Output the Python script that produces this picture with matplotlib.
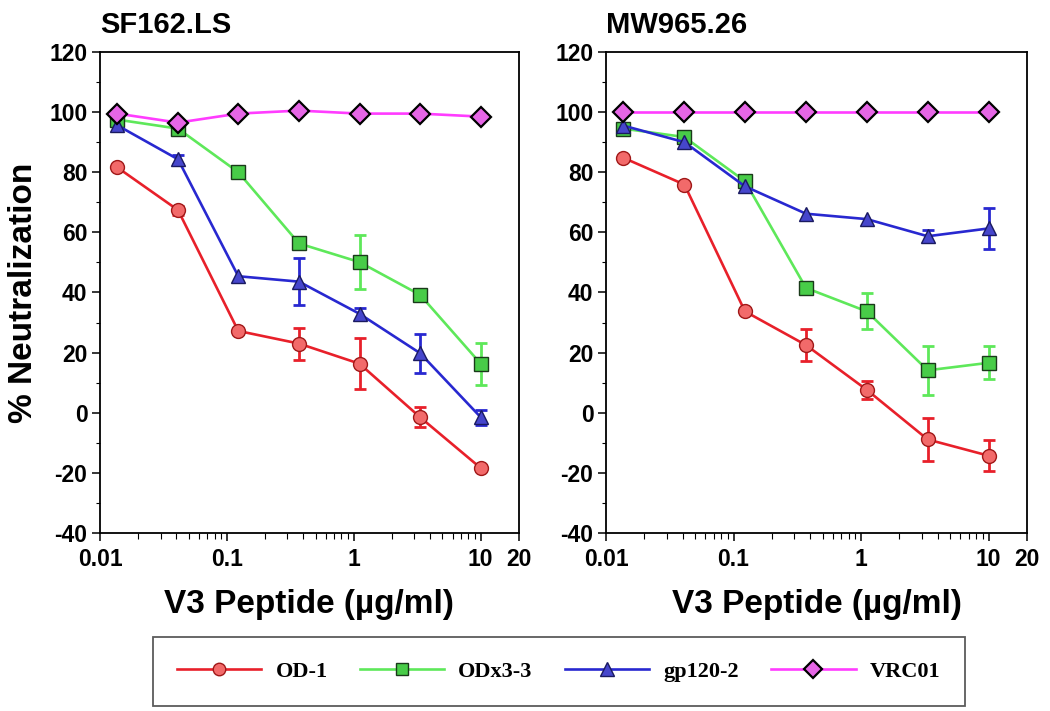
import numpy as np
import matplotlib
matplotlib.use('Agg')
import matplotlib.pyplot as plt
from matplotlib.ticker import FixedLocator, FixedFormatter, MultipleLocator, LogLocator, NullFormatter

plt.rcParams['font.family'] = ['Liberation Sans', 'DejaVu Sans']
plt.rcParams['axes.unicode_minus'] = False

# 稀释浓度 (µg/ml)
conc = [0.0137, 0.0412, 0.123, 0.370, 1.11, 3.33, 10.0]
series_names = ['OD-1', 'ODx3-3', 'gp120-2', 'VRC01']

# SF162.LS
sf_od1 = [81.6, 67.4, 27.2, 23.0, 16.3, -1.5, -18.4]
sf_od1_err = [0, 1.5, 0, 5.3, 8.4, 3.4, 0]
sf_odx = [97.5, 94.5, 80.0, 56.3, 50.1, 39.2, 16.3]
sf_odx_err = [0, 0, 0, 0, 9.0, 0, 7.0]
sf_gp = [95.6, 84.3, 45.4, 43.6, 32.9, 19.8, -1.5]
sf_gp_err = [0, 1.5, 0, 7.8, 2.0, 6.5, 2.5]
sf_vrc = [99.5, 96.5, 99.5, 100.5, 99.5, 99.5, 98.5]
sf_vrc_err = [0, 0, 0, 0, 0, 0, 0]

# MW965.26
mw_od1 = [84.8, 75.9, 33.7, 22.5, 7.6, -8.9, -14.3]
mw_od1_err = [0, 0, 0, 5.3, 3.0, 7.0, 5.1]
mw_odx = [94.5, 91.7, 77.0, 41.5, 33.7, 14.1, 16.6]
mw_odx_err = [0, 0, 0, 0, 6.0, 8.2, 5.5]
mw_gp = [95.5, 90.0, 75.3, 66.2, 64.4, 58.7, 61.3]
mw_gp_err = [0, 0, 0, 0, 0, 2.0, 6.8]
mw_vrc = [100, 100, 100, 100, 100, 100, 100]
mw_vrc_err = [0, 0, 0, 0, 0, 0, 0]

panels = [
    ('SF162.LS', [sf_od1, sf_odx, sf_gp, sf_vrc], [sf_od1_err, sf_odx_err, sf_gp_err, sf_vrc_err]),
    ('MW965.26', [mw_od1, mw_odx, mw_gp, mw_vrc], [mw_od1_err, mw_odx_err, mw_gp_err, mw_vrc_err]),
]

line_colors = ['#e8202a', '#5ee85a', '#2828d0', '#ff3cff']
face_colors = ['#f26a6a', '#48cc48', '#4646cc', '#e666e6']
edge_colors = ['#a01818', '#1a3a1a', '#1a1a60', '#000000']
markers = ['o', 's', '^', 'D']
msizes = [10, 9.5, 10.5, 10]

fig = plt.figure(figsize=(10.5, 7.11), dpi=100)
ax_pos = [[0.0952, 0.2504, 0.399, 0.6765], [0.5771, 0.2504, 0.401, 0.6765]]

handles = []
for k, (title, vals, errs) in enumerate(panels):
    ax = fig.add_axes(ax_pos[k])
    for i in range(4):
        e = np.array(errs[i])
        ax.errorbar(conc, vals[i], yerr=np.where(e > 0, e, np.nan), fmt='none',
                    ecolor=line_colors[i], elinewidth=2.0, capsize=4.5, capthick=2.0, zorder=2)
        h, = ax.plot(conc, vals[i], color=line_colors[i], lw=1.9, marker=markers[i],
                     markersize=msizes[i], markerfacecolor=face_colors[i],
                     markeredgecolor=edge_colors[i], markeredgewidth=1.6 if i == 3 else 1.0,
                     zorder=3 + i)
        if k == 0:
            handles.append(h)
    ax.set_xscale('log')
    ax.set_xlim(0.01, 20)
    ax.set_ylim(-40, 120)
    ax.xaxis.set_major_locator(FixedLocator([0.01, 0.1, 1, 10, 20]))
    ax.xaxis.set_major_formatter(FixedFormatter(['0.01', '0.1', '1', '10', '20']))
    ax.xaxis.set_minor_locator(LogLocator(base=10, subs=np.arange(2, 10)))
    ax.xaxis.set_minor_formatter(NullFormatter())
    ax.yaxis.set_major_locator(MultipleLocator(20))
    ax.yaxis.set_minor_locator(MultipleLocator(10))
    ax.tick_params(which='major', direction='out', length=6, width=1.1, labelsize=16.5, pad=3)
    ax.tick_params(axis='x', which='major', pad=5)
    ax.tick_params(which='minor', direction='out', length=3, width=0.8)
    ax.tick_params(axis='x', which='minor', length=4)
    for lab in ax.get_xticklabels() + ax.get_yticklabels():
        lab.set_fontweight('bold')
    for s in ax.spines.values():
        s.set_linewidth(1.3)
    ax.set_title(title, loc='left', fontsize=21, fontweight='bold', pad=14)
    ax.set_xlabel('V3 Peptide (µg/ml)', fontsize=24, fontweight='bold', labelpad=13)
    if k == 0:
        ax.set_ylabel('% Neutralization', fontsize=24, fontweight='bold', labelpad=7)

leg = fig.legend(handles, series_names, loc='center', ncol=4,
                 bbox_to_anchor=(0.532, 0.0556), frameon=True, fancybox=False,
                 edgecolor='#333333', handlelength=3.8, columnspacing=1.45,
                 borderpad=1.1, handletextpad=0.63, markerscale=0.9,
                 prop={'family': 'Liberation Serif', 'weight': 'bold', 'size': 16})
leg.get_frame().set_linewidth(1.3)

fig.savefig('out.png', dpi=100)
